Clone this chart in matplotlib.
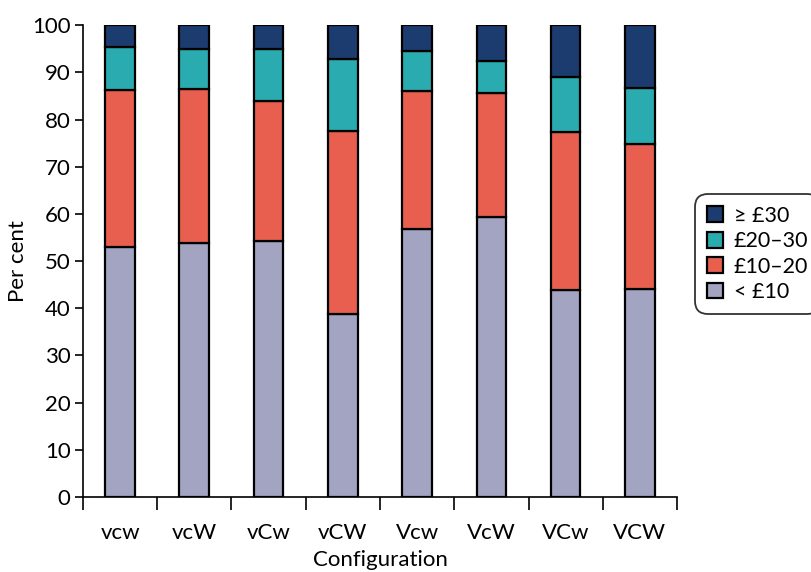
import numpy as np
import matplotlib.pyplot as plt

configs = ["vcw", "vcW", "vCw", "vCW", "Vcw", "VcW", "VCw", "VCW"]
legend_labels = ["< £10", "£10–20", "£20–30", "≥ £30"]
under_10 = [53.0, 53.8, 54.2, 38.8, 56.9, 59.3, 43.8, 44.0]
from_10_20 = [33.2, 32.6, 29.8, 38.7, 29.1, 26.3, 33.5, 30.8]
from_20_30 = [9.2, 8.6, 11.0, 15.3, 8.6, 6.7, 11.7, 11.9]
over_30 = [4.6, 5.0, 5.0, 7.2, 5.4, 7.7, 11.0, 13.3]

colors = ["#a2a4c2", "#e85f4f", "#2aabb0", "#1c3b6e"]

plt.rcParams["font.family"] = ["Lato", "DejaVu Sans"]

fig = plt.figure(figsize=(8.11, 5.72), dpi=100)
ax = fig.add_axes([0.1023, 0.1311, 0.7325, 0.8249])

x = np.arange(len(configs))
bottom = np.zeros(len(configs))
handles = []
for vals, col, lab in zip([under_10, from_10_20, from_20_30, over_30], colors, legend_labels):
    b = ax.bar(x, vals, bottom=bottom, width=0.4, color=col, edgecolor="black",
               linewidth=1.6, label=lab)
    handles.append(b)
    bottom += np.array(vals)

ax.set_xlim(-0.5, len(configs) - 0.5)
ax.set_ylim(0, 100)
ax.set_yticks(np.arange(0, 101, 10))
ax.set_xticks(x)
ax.set_xticklabels(configs)
ax.set_xticks(np.arange(-0.5, len(configs)), minor=True)
ax.tick_params(axis="x", which="major", length=0, pad=19, labelsize=16)
ax.tick_params(axis="x", which="minor", length=9, width=1.2, direction="out")
ax.tick_params(axis="y", length=6, width=1.2, labelsize=16, pad=3)
for s in ["top", "right"]:
    ax.spines[s].set_visible(False)
for s in ["left", "bottom"]:
    ax.spines[s].set_linewidth(1.2)

ax.set_ylabel("Per cent", fontsize=16, labelpad=3)
ax.set_xlabel("Configuration", fontsize=16, labelpad=5)

leg = fig.legend(handles[::-1], legend_labels[::-1], loc="upper left",
                 bbox_to_anchor=(0.857, 0.661), fontsize=15.5, frameon=True,
                 fancybox=True, edgecolor="black", handlelength=0.75,
                 handleheight=0.75, handletextpad=0.5, labelspacing=0.25,
                 borderpad=0.55, borderaxespad=0)
leg.get_frame().set_linewidth(1.3)
leg.get_frame().set_boxstyle("round", pad=0, rounding_size=0.6)

fig.savefig("out.png", dpi=100)
